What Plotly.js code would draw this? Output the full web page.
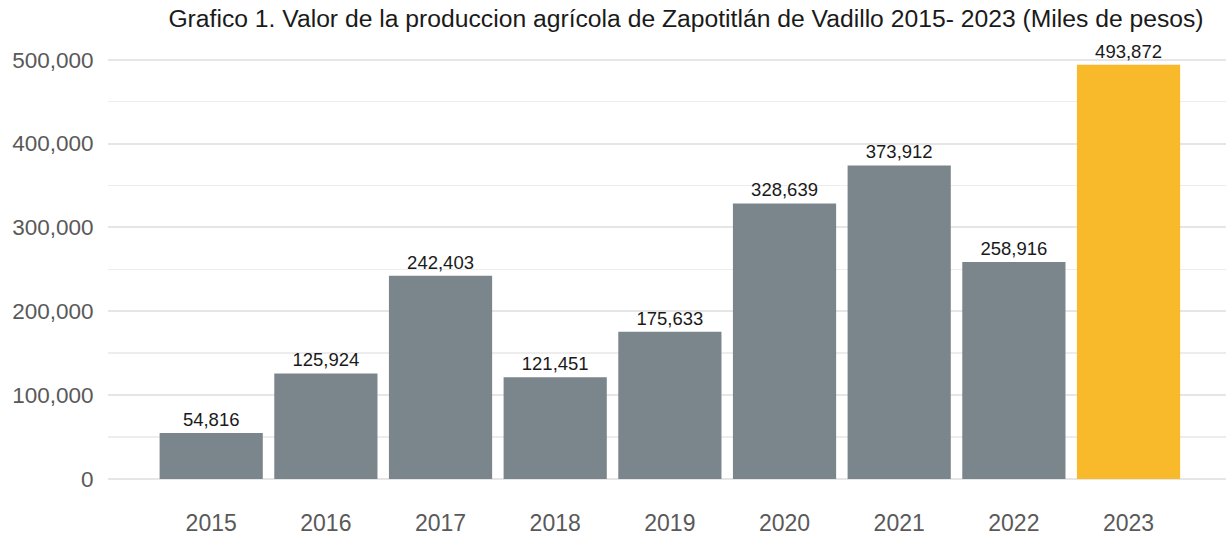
<!DOCTYPE html>
<html>
<head>
<meta charset="utf-8">
<script src="https://cdn.plot.ly/plotly-3.0.1.min.js"></script>
<style>html,body{margin:0;padding:0;background:#fff;}#chart{width:1226px;height:536px;}</style>
</head>
<body>
<div id="chart"></div>
<script>
const years = ["2015","2016","2017","2018","2019","2020","2021","2022","2023"];
const values = [54816, 125924, 242403, 121451, 175633, 328639, 373912, 258916, 493872];
const barColors = ["#7B868C","#7B868C","#7B868C","#7B868C","#7B868C","#7B868C","#7B868C","#7B868C","#F8BA2A"];
const yTicks = [0, 100000, 200000, 300000, 400000, 500000];

const trace = {
  type: "bar",
  x: years,
  y: values,
  marker: {color: barColors},
  text: values.map(v => v.toLocaleString("en-US")),
  textposition: "outside",
  textfont: {family: "Liberation Sans, Arial, sans-serif", size: 18.5, color: "#1a1a1a"},
  cliponaxis: false,
  hoverinfo: "none"
};

const layout = {
  width: 1226, height: 536,
  margin: {l: 108, r: 0, t: 40, b: 57},
  paper_bgcolor: "#fff", plot_bgcolor: "#fff",
  font: {family: "Liberation Sans, Arial, sans-serif"},
  title: {
    text: "Grafico 1. Valor de la produccion agrícola de Zapotitlán de Vadillo 2015- 2023 (Miles de pesos)",
    font: {size: 24.7, color: "#1a1a1a"},
    x: 686/1226, xanchor: "center", xref: "container",
    y: 1 - 18/536, yanchor: "middle", yref: "container"
  },
  bargap: 0.1,
  showlegend: false,
  xaxis: {
    type: "category",
    range: [-0.9, 8.85],
    showgrid: false, zeroline: false, showline: false,
    ticks: "outside", ticklen: 23, tickcolor: "rgba(0,0,0,0)",
    tickfont: {size: 23, color: "#595959"}
  },
  yaxis: {
    range: [0, 523500],
    tickvals: yTicks,
    tickformat: ",",
    showgrid: true, gridcolor: "#E6E6E6", gridwidth: 2,
    minor: {dtick: 50000, tick0: 0, showgrid: true, gridcolor: "#EDEDED", gridwidth: 1.5},
    zeroline: true, zerolinecolor: "#E6E6E6", zerolinewidth: 2,
    showline: false,
    ticks: "outside", ticklen: 9, tickcolor: "rgba(0,0,0,0)",
    tickfont: {size: 22.5, color: "#595959"}
  }
};

Plotly.newPlot("chart", [trace], layout, {staticPlot: true, displayModeBar: false});
</script>
</body>
</html>
